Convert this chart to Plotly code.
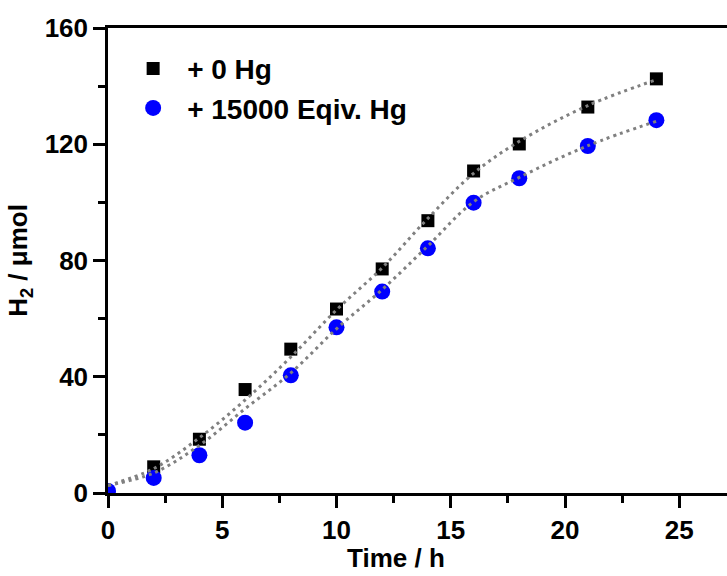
import plotly.graph_objects as go

# Measured data
time_h = [0, 2, 4, 6, 8, 10, 12, 14, 16, 18, 21, 24]
h2_0hg = [None, 9.0, 18.5, 35.6, 49.5, 63.3, 77.1, 93.7, 110.8, 120.1, 132.8, 142.5]
h2_15000hg = [0.7, 5.2, 13.0, 24.2, 40.5, 57.0, 69.3, 84.2, 99.9, 108.3, 119.4, 128.3]

# Fitted curves
fit_t = [0, 2, 4, 6, 8, 10, 12, 14, 16, 18, 21, 24]
fit_0hg = [2.6, 8.4, 19.0, 32.0, 46.8, 63.0, 77.5, 94.5, 110.0, 121.0, 133.3, 142.2]
fit_15000hg = [2.6, 6.9, 16.4, 29.0, 41.3, 56.5, 70.0, 85.0, 100.2, 108.6, 119.5, 127.9]

x_ticks = [0, 5, 10, 15, 20, 25]
y_ticks = [0, 40, 80, 120, 160]

FONT = "Liberation Sans"

fig = go.Figure()
fig.add_trace(go.Scatter(
    x=time_h, y=h2_0hg, mode="markers", name="+ 0 Hg",
    marker=dict(symbol="square", size=13, color="black"),
))
fig.add_trace(go.Scatter(
    x=time_h, y=h2_15000hg, mode="markers", name="+ 15000 Eqiv. Hg",
    marker=dict(symbol="circle", size=16, color="#0000ff"),
))
for fy in (fit_0hg, fit_15000hg):
    fig.add_trace(go.Scatter(
        x=fit_t, y=fy, mode="lines", showlegend=False, hoverinfo="skip",
        line=dict(color="#808080", width=3, dash="3px,4px", shape="spline", smoothing=1.0),
    ))

fig.update_layout(
    width=727, height=576,
    margin=dict(l=108, r=0, t=28, b=83),
    paper_bgcolor="white", plot_bgcolor="white",
    font=dict(family=FONT, size=26, color="black", weight="bold"),
    legend=dict(
        x=0.018, y=0.966, xanchor="left", yanchor="top",
        font=dict(family=FONT, size=28, color="black", weight="bold"),
        bgcolor="rgba(0,0,0,0)", itemwidth=58,
    ),
    annotations=[dict(
        text="Time / h", xref="paper", yref="paper",
        x=0.465, y=-0.1398, xanchor="center", yanchor="middle", showarrow=False,
        font=dict(family=FONT, size=26, color="black", weight="bold"),
    )],
)
fig.update_xaxes(
    range=[0, 27.09], tickvals=x_ticks, ticktext=[str(v) for v in x_ticks],
    showline=True, linecolor="black", linewidth=2.5, mirror=True,
    ticks="outside", ticklen=12, tickwidth=2.5, tickcolor="black",
    minor=dict(dtick=2.5, ticks="outside", ticklen=7, tickwidth=2.5, tickcolor="black", showgrid=False),
    showgrid=False, zeroline=False,
    tickfont=dict(family=FONT, size=26, weight="bold"),
)
fig.update_yaxes(
    range=[0, 160], tickvals=y_ticks, ticktext=[str(v) for v in y_ticks],
    showline=True, linecolor="black", linewidth=2.5, mirror=False,
    ticks="outside", ticklen=12, tickwidth=2.5, tickcolor="black",
    minor=dict(dtick=20, ticks="outside", ticklen=7, tickwidth=2.5, tickcolor="black", showgrid=False),
    showgrid=False, zeroline=False,
    tickfont=dict(family=FONT, size=26, weight="bold"),
    title=dict(text="H<sub>2</sub> / μmol", font=dict(family=FONT, size=26, weight="bold"), standoff=10),
)

fig.write_html(
    "out.html",
    config={"displayModeBar": False},
    post_script="document.body.style.margin='0';document.body.style.overflow='hidden';",
)
